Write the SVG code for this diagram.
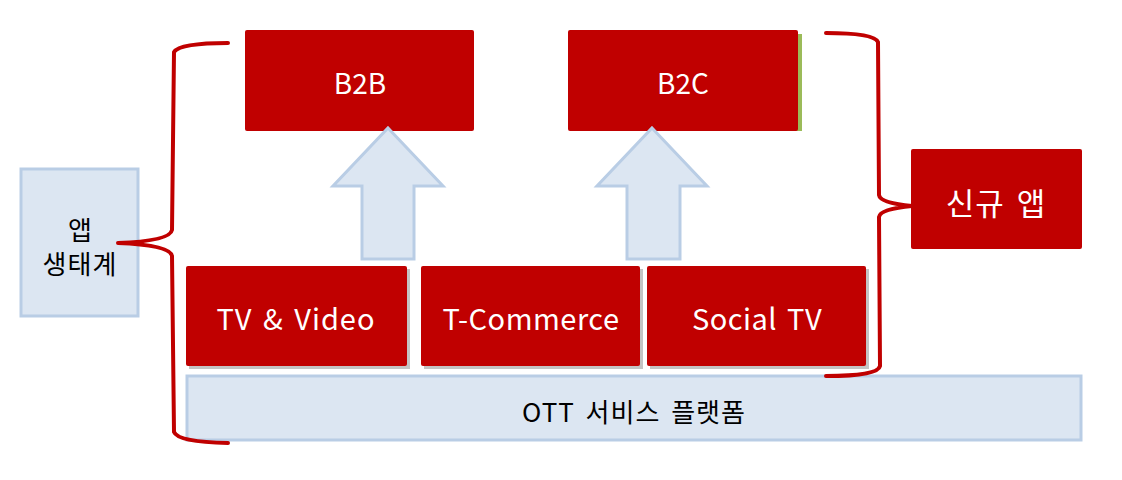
<svg xmlns="http://www.w3.org/2000/svg" width="1122" height="480" viewBox="0 0 1122 480">
<defs>
<style>
.red{fill:#C00000;}
.blue{fill:#DCE6F2;stroke:#B9CDE5;stroke-width:3;}
.shadow{fill:#8a8a8a;opacity:0.5;}
.wt{fill:#FFFFFF;font-family:"Noto Sans CJK KR","Noto Sans",sans-serif;text-anchor:middle;dominant-baseline:central;}
.bt{fill:#000000;font-family:"Noto Sans CJK KR","Noto Sans",sans-serif;text-anchor:middle;dominant-baseline:central;}
.brace{fill:none;stroke:#C00000;stroke-width:4;stroke-linecap:round;stroke-linejoin:round;}
.arrow{fill:#DCE6F2;stroke:#B9CDE5;stroke-width:3;stroke-linejoin:miter;}
</style>
</defs>
<rect width="1122" height="480" fill="#FFFFFF"/>
<g id="ott">
<rect class="blue" x="187" y="376" width="894" height="64"/>
<text class="bt" x="634" y="410" font-size="26" letter-spacing="1" word-spacing="4">OTT 서비스 플랫폼</text>
</g>
<g id="app-eco">
<rect class="blue" x="21" y="169" width="117" height="147"/>
<text class="bt" x="80" y="228" font-size="26">앱</text>
<text class="bt" x="80" y="262" font-size="26" letter-spacing="1">생태계</text>
</g>
<g id="b2b">
<rect class="red" x="245" y="30" width="229" height="101" rx="2"/>
<text class="wt" x="360" y="82" font-size="28">B2B</text>
</g>
<g id="b2c">
<rect x="572" y="34" width="230" height="97" fill="#9BBB59"/>
<rect class="red" x="568" y="30" width="230" height="101" rx="2"/>
<text class="wt" x="683" y="82" font-size="28">B2C</text>
</g>
<g id="tv-video">
<rect class="shadow" x="189" y="269" width="221" height="100"/>
<rect class="red" x="186" y="266" width="221" height="100" rx="2"/>
<text class="wt" x="296" y="317" font-size="29" letter-spacing="1" word-spacing="3">TV &amp; Video</text>
</g>
<g id="t-commerce">
<rect class="shadow" x="424" y="269" width="219" height="100"/>
<rect class="red" x="421" y="266" width="219" height="100" rx="2"/>
<text class="wt" x="531" y="317" font-size="29" letter-spacing="0.5">T-Commerce</text>
</g>
<g id="social-tv">
<rect class="shadow" x="650" y="269" width="219" height="100"/>
<rect class="red" x="647" y="266" width="219" height="100" rx="2"/>
<text class="wt" x="757" y="317" font-size="29" letter-spacing="0.5" word-spacing="3">Social TV</text>
</g>
<g id="new-app">
<rect class="red" x="911" y="149" width="171" height="100" rx="2"/>
<text class="wt" x="996" y="201" font-size="31" letter-spacing="1" word-spacing="4">신규 앱</text>
</g>
<g id="connectors">
<path class="arrow" d="M388,128 L443,186 L414,186 L414,259 L362,259 L362,186 L333,186 Z"/>
<path class="arrow" d="M652,128 L707,186 L680,186 L680,259 L627,259 L627,186 L597,186 Z"/>
<path class="brace" d="M228,43 Q180,43 174,52 L172,230 Q170,241 118,243 Q170,245 172,256 L174,432 Q178,442 228,443"/>
<path class="brace" d="M826,33 Q874,33 878,42 L879,195 Q880,203 912,206 Q880,209 879,217 L880,366 Q878,376 826,376"/>
</g>
</svg>
